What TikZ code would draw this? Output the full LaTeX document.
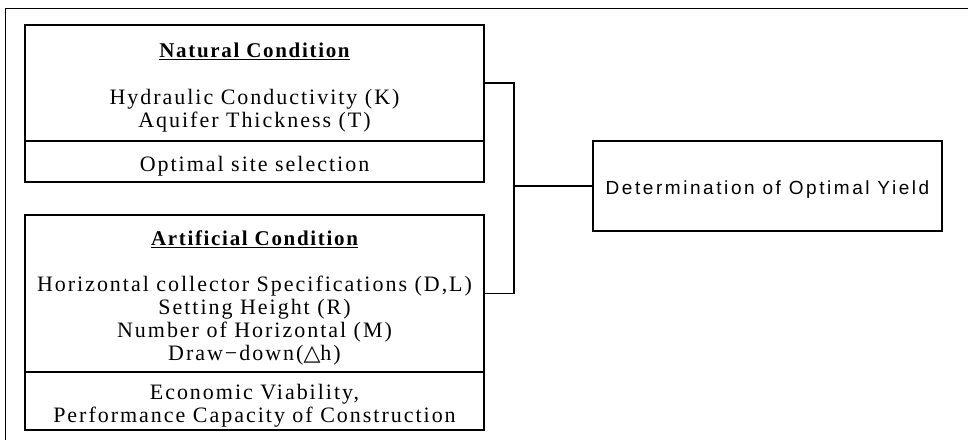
\documentclass[tikz,border=0pt]{standalone}
\usepackage{fontspec}
\setmainfont{Liberation Serif}
\newfontfamily\bodyfont[LetterSpace=9]{Liberation Serif}
\newfontfamily\headfont[LetterSpace=8]{Liberation Serif}
\newfontfamily\yieldfont[LetterSpace=13.5]{Liberation Sans}
\newfontfamily\symfont{DejaVu Sans}
\newcommand{\topgap}{\rule{0pt}{24pt}}
\newcommand{\heading}[1]{\topgap{\headfont\bfseries\fontsize{21}{23}\selectfont\underline{#1}}}
\usetikzlibrary{positioning}

\begin{document}
\begin{tikzpicture}[x=1pt,y=-1pt,line width=1.3pt,
  box/.style={draw,rectangle,inner sep=0pt,minimum width=459pt,align=center,
    font=\bodyfont\fontsize{22}{23}\selectfont}]
\useasboundingbox (0,0) rectangle (968,440);
% frame
\draw[line width=1.8pt] (968,8.5) -- (5.5,8.5) -- (5.5,440);
% condition boxes
\node[box,minimum height=116pt] (nat) at (254.5,83)
  {\heading{Natural Condition}\\[24pt]
   Hydraulic Conductivity (K)\\Aquifer Thickness (T)};
\node[box,minimum height=41pt] (natsite) at (254.5,161.5) {\topgap Optimal site selection};
\node[box,minimum height=157pt] (art) at (254.5,293.5)
  {\heading{Artificial Condition}\\[23pt]
   Horizontal collector Specifications (D,L)\\Setting Height (R)\\
   Number of Horizontal (M)\\Draw−down({\symfont △}h)};
\node[box,minimum height=58pt] (artecon) at (254.5,401)
  {\topgap Economic Viability,\\Performance Capacity of Construction};
% result
\node[box,minimum width=349pt,minimum height=90pt,font=\yieldfont\fontsize{19}{23}\selectfont]
  (yield) at (767.5,186) {\rule{0pt}{20pt}Determination of Optimal Yield};
\coordinate (j) at (514,186);
\draw (nat.east) -| (j) -- (yield.west);
\draw (art.east) -| (j);
\end{tikzpicture}
\end{document}
